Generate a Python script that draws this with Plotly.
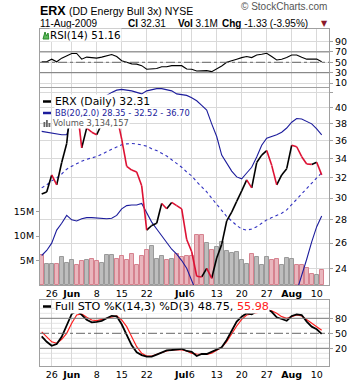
import math
import pandas as pd
import plotly.graph_objects as go

# ---------------- data ----------------
holidays = {"2009-05-25", "2009-07-03"}
dates = [d.strftime("%Y-%m-%d") for d in pd.bdate_range("2009-05-21", "2009-08-11")
         if d.strftime("%Y-%m-%d") not in holidays]

prev_close = 31.2
close = [30.4, 30.6, 32.3, 31.3, 33.6, 35.7, 41.5, 40.6, 35.2, 37.5,
         37.0, 36.7, 38.0, 39.4, 40.3, 39.0, 36.2, 33.2, 32.8, 32.6,
         31.2, 27.1, 27.5, 27.7, 29.5, 29.0, 29.6, 29.3, 29.0, 26.3,
         25.3, 23.4, 23.35, 24.0, 23.25, 24.8, 25.9, 27.9, 28.7, 29.7,
         30.7, 31.8, 31.0, 33.6, 34.4, 34.9, 33.3, 31.3, 32.3, 32.95,
         35.5, 35.33, 34.23, 33.44, 33.4, 33.64, 32.31]
volume_m = [6.1, 4.2, 4.2, 4.2, 5.7, 4.4, 5.1, 4.0, 4.85, 5.05,
            5.3, 4.85, 4.6, 6.1, 6.1, 5.3, 5.9, 5.05, 6.4, 4.0,
            5.9, 7.15, 8.0, 5.4, 5.9, 5.05, 5.3, 6.4, 5.7, 6.0,
            6.0, 10.2, 10.2, 8.5, 7.2, 7.8, 8.7, 7.0, 6.6, 6.75,
            5.1, 4.3, 6.3, 5.7, 4.1, 5.7, 5.1, 5.3, 4.1, 5.5,
            5.25, 4.1, 4.1, 3.4, 2.25, 2.0, 3.134157]
bb_upper = [37.1, 37.0, 36.9, 36.8, 36.7, 36.7, 38.6, 39.8, 40.0, 40.3,
            40.6, 40.9, 41.2, 41.6, 42.0, 42.3, 42.4, 42.3, 42.2, 42.0,
            41.8, 42.2, 42.4, 42.5, 42.5, 42.4, 42.2, 41.8, 41.7, 41.6,
            41.3, 40.9, 40.3, 39.7, 38.0, 36.5, 34.4, 33.6, 32.7, 32.1,
            31.9, 32.5, 33.1, 34.2, 35.5, 36.3, 36.5, 36.7, 37.0, 37.5,
            38.2, 38.65, 38.6, 38.3, 38.0, 37.4, 36.7]
bb_mid = [31.0, 31.3, 31.7, 32.0, 32.4, 32.9, 33.2, 33.5, 33.75, 33.95,
          34.1, 34.25, 34.5, 34.8, 35.05, 35.3, 35.55, 35.65, 35.7, 35.65,
          35.55, 35.4, 35.1, 34.9, 34.6, 34.3, 33.9, 33.5, 33.1, 32.6,
          32.2, 31.6, 31.1, 30.6, 30.0, 29.4, 28.8, 28.3, 27.9, 27.5,
          27.2, 27.1, 27.2, 27.4, 27.7, 28.0, 28.2, 28.4, 28.6, 28.9,
          29.4, 29.9, 30.4, 31.0, 31.5, 32.0, 32.52]
bb_lower = [25.0, 25.4, 26.0, 27.1, 27.7, 28.4, 28.0, 27.9, 28.1, 28.2,
            28.2, 28.15, 28.1, 28.1, 28.15, 28.4, 29.0, 29.3, 29.35, 29.35,
            29.5, 28.6, 27.8, 27.2, 26.6, 26.0, 25.5, 25.1, 24.6, 24.0,
            23.0, 22.2, 21.6, 21.2, 21.0, 20.9, 21.0, 21.3, 21.6, 21.9,
            22.2, 22.3, 22.2, 21.6, 21.0, 20.6, 20.5, 20.5, 20.6, 20.8,
            21.3, 22.3, 23.4, 24.7, 26.1, 27.4, 28.35]
rsi = [51, 51, 56, 51, 58, 63, 67, 67, 56, 60,
       59.5, 58, 60, 62, 65, 61, 53, 50, 47, 46.5,
       43.5, 36.5, 37.5, 38, 41.5, 41.5, 43.5, 43.5, 43.5, 37,
       36.5, 33.3, 33.3, 34, 32, 37, 43, 50, 52.5, 56,
       59, 61, 59, 64, 65.5, 67.3, 61, 54.5, 56, 59,
       64, 64, 59.6, 56, 56, 56.3, 51.16]
sto_k = [44, 33, 25, 28.6, 43, 66.6, 88.6, 95, 87, 77,
         72, 73, 75, 80, 85, 84, 68, 47, 26, 12,
         6.5, 3.5, 3.3, 7.5, 12.5, 16, 16.6, 17.5, 19, 14.6,
         13, 4.6, 8.6, 8.6, 13.3, 18, 22, 36.6, 56.6, 73.3,
         83.3, 90, 88, 94, 97, 98, 93, 82, 78.6, 75,
         84.6, 88, 86.6, 73.3, 63.3, 58, 48.75]
sto_d = [53, 43, 33, 30, 38, 50, 70, 86.6, 88.6, 82,
         76.6, 75.3, 78, 80.6, 83.3, 84.6, 76.6, 63.3, 43.3, 23.3,
         10, 4.6, 4.6, 8, 12, 14.6, 16.6, 16.6, 16.6, 14.6,
         10, 8.6, 8, 8, 10, 15.3, 22, 33.3, 50, 64.6,
         78, 86.6, 89, 91, 93, 96, 95, 90, 83.3, 80,
         83.3, 86.6, 84.6, 78, 70, 63.3, 55.98]

tick_dates = ["2009-05-26", "2009-06-01", "2009-06-08", "2009-06-15", "2009-06-22",
              "2009-07-01", "2009-07-06", "2009-07-13", "2009-07-20", "2009-07-27",
              "2009-08-03", "2009-08-10"]
tick_text = ["26", "<b>Jun</b>", "8", "15", "22", "<b>Jul</b>", "6", "13", "20", "27",
             "<b>Aug</b>", "10"]
price_ticks = [24, 26, 28, 30, 32, 34, 36, 38, 40]
price_grid = [24, 26, 28, 30, 32, 34, 36, 38, 40, 42]

# ---------------- geometry helpers ----------------
W, H = 360, 384
def fx(p):
    return p / W
def fy(p):
    return 1 - p / H

X_L, X_R = 40, 329
XR = [-0.34, 57.46]
FONT = "DejaVu Sans"
ARIAL = "Liberation Sans"
GRID = "#d9d9d9"
BORDER = "#a0a0a0"
RED = "#dd1133"
NAVY = "#1c1c9c"

fig = go.Figure()

# ---- volume bars (base layer of price panel) ----
prevs = [prev_close] + close[:-1]
up = [c >= p for c, p in zip(close, prevs)]
fig.add_trace(go.Bar(
    x=dates, y=[v * 1e6 for v in volume_m], xaxis="x2", yaxis="y2", width=0.8,
    marker=dict(color=["#bdbdbd" if u else "#e9b6bd" for u in up],
                line=dict(color=["#9a9a9a" if u else "#d6828f" for u in up], width=1)),
    hoverinfo="skip"))

# ---- Bollinger bands ----
fig.add_trace(go.Scatter(x=dates, y=bb_upper, xaxis="x2", yaxis="y3", mode="lines",
                         line=dict(color=NAVY, width=1.1), hoverinfo="skip"))
fig.add_trace(go.Scatter(x=dates, y=bb_lower, xaxis="x2", yaxis="y3", mode="lines",
                         line=dict(color=NAVY, width=1.1), hoverinfo="skip"))
fig.add_trace(go.Scatter(x=dates, y=bb_mid, xaxis="x2", yaxis="y3", mode="lines",
                         line=dict(color="#3030c0", width=1.1, dash="dot"), hoverinfo="skip"))

# ---- price line, black up / red down ----
sx = {True: [], False: []}
sy = {True: [], False: []}
for i in range(1, len(close)):
    k = close[i] >= close[i - 1]
    sx[k] += [dates[i - 1], dates[i], None]
    sy[k] += [close[i - 1], close[i], None]
fig.add_trace(go.Scatter(x=sx[True], y=sy[True], xaxis="x2", yaxis="y3", mode="lines",
                         line=dict(color="black", width=1.6), hoverinfo="skip"))
fig.add_trace(go.Scatter(x=sx[False], y=sy[False], xaxis="x2", yaxis="y3", mode="lines",
                         line=dict(color=RED, width=1.6), hoverinfo="skip"))

# ---- RSI ----
fig.add_trace(go.Scatter(x=dates, y=rsi, xaxis="x", yaxis="y", mode="lines",
                         line=dict(color="black", width=1.1), hoverinfo="skip"))

# ---- Full STO ----
fig.add_trace(go.Scatter(x=dates, y=sto_d, xaxis="x3", yaxis="y4", mode="lines",
                         line=dict(color="#ff2020", width=1.2), hoverinfo="skip"))
fig.add_trace(go.Scatter(x=dates, y=sto_k, xaxis="x3", yaxis="y4", mode="lines",
                         line=dict(color="black", width=1.8), hoverinfo="skip"))

tickfont = dict(family=FONT, size=9.5, color="black")
xbase = dict(type="category", range=XR, domain=[fx(X_L), fx(X_R)],
             tickmode="array", tickvals=tick_dates, ticktext=tick_text, tickangle=0,
             showgrid=True, gridcolor=GRID, gridwidth=1,
             showline=True, mirror=True, linecolor=BORDER, linewidth=1,
             zeroline=False, ticks="", tickfont=tickfont, fixedrange=True)

shapes = []
# RSI reference lines
for v, dash, col in [(70, "solid", "#777"), (30, "solid", "#777"), (50, "dashdot", "#666")]:
    shapes.append(dict(type="line", xref="paper", yref="y", x0=fx(X_L), x1=fx(X_R),
                       y0=v, y1=v, line=dict(color=col, width=1, dash=dash)))
# STO light grid + reference lines
for v in [0, 10, 30, 40, 60, 70, 90, 100]:
    shapes.append(dict(type="line", xref="paper", yref="y4", x0=fx(X_L), x1=fx(X_R),
                       y0=v, y1=v, layer="below", line=dict(color="#e4e4e4", width=1)))
for v, dash, col in [(80, "solid", "#777"), (20, "solid", "#777"), (50, "dashdot", "#666")]:
    shapes.append(dict(type="line", xref="paper", yref="y4", x0=fx(X_L), x1=fx(X_R),
                       y0=v, y1=v, line=dict(color=col, width=1, dash=dash)))

annotations = []
def txt(x, y, s, size=10, family=FONT, color="black", bg=None, anchor="left"):
    d = dict(xref="paper", yref="paper", x=fx(x), y=fy(y), text=s, showarrow=False,
             xanchor=anchor, yanchor="middle", font=dict(family=family, size=size, color=color),
             borderpad=0)
    if bg:
        d["bgcolor"] = bg
    annotations.append(d)

# header
txt(39, 11, "<b>ERX</b>", size=12.5, family=ARIAL)
txt(68, 11.5, "(DD Energy Bull 3x) NYSE", size=10.5, family=ARIAL)
txt(328, 7, "© StockCharts.com", size=10, family=ARIAL, color="#555", anchor="right")
txt(39, 23, "11-Aug-2009", size=10, family=ARIAL)
txt(127, 23, "<b>Cl</b> 32.31", size=10, family=ARIAL)
txt(177, 23, "<b>Vol</b> 3.1M", size=10, family=ARIAL)
txt(221, 23, "<b>Chg</b> -1.33 (-3.95%)", size=10, family=ARIAL)
txt(320, 23, "▼", size=8, family=FONT, color="#8b1a2a")

# RSI label
txt(49, 35, "RSI(14) 51.16", size=10.3, bg="white")
# price legend
txt(54, 101.5, "ERX (Daily) 32.31", size=10.8, bg="white")
txt(54, 113, "BB(20,2.0) 28.35 - 32.52 - 36.70", size=8.3, color=NAVY, bg="white")
txt(52, 123, "Volume 3,134,157", size=8.3, color="#555", bg="white")
# STO legend
txt(54, 306.5, "Full STO %K(14,3) %D(3) 48.75, <span style='color:#ff2020'>55.98</span>",
    size=11.2, bg="white")

# legend icons
shapes.append(dict(type="line", xref="paper", yref="paper", x0=fx(43), x1=fx(51),
                   y0=fy(101.5), y1=fy(101.5), line=dict(color="black", width=2.5)))
shapes.append(dict(type="line", xref="paper", yref="paper", x0=fx(43), x1=fx(51),
                   y0=fy(113), y1=fy(113), line=dict(color=NAVY, width=2.5)))
shapes.append(dict(type="line", xref="paper", yref="paper", x0=fx(43), x1=fx(51),
                   y0=fy(306.5), y1=fy(306.5), line=dict(color="black", width=2.5)))
for bx, bh in [(43.5, 5), (46, 7), (48.5, 4)]:
    shapes.append(dict(type="rect", xref="paper", yref="paper", x0=fx(bx), x1=fx(bx + 1.8),
                       y0=fy(127), y1=fy(127 - bh), line=dict(width=0), fillcolor="#666"))
# RSI icon
shapes.append(dict(type="path", xref="paper", yref="paper",
                   path=f"M {fx(43)} {fy(39)} L {fx(45)} {fy(32)} L {fx(46.5)} {fy(36)} "
                        f"L {fx(48)} {fy(33)} L {fx(49)} {fy(39)} Z",
                   line=dict(color="#2a8a2a", width=1), fillcolor="#5cb85c"))

layout = dict(
    width=W, height=H, margin=dict(l=0, r=0, t=0, b=0), autosize=False,
    paper_bgcolor="white", plot_bgcolor="white", showlegend=False, bargap=0,
    xaxis=dict(xbase, anchor="y", showticklabels=False),
    xaxis2=dict(xbase, anchor="y2", showticklabels=True),
    xaxis3=dict(xbase, anchor="y4", showticklabels=True),
    yaxis=dict(domain=[fy(87), fy(29)], range=[2.5, 114], side="right",
               tickvals=[10, 30, 50, 70, 90], showgrid=True, gridcolor=GRID,
               showline=True, mirror=True, linecolor=BORDER, zeroline=False,
               ticks="outside", ticklen=3, tickcolor=BORDER, tickfont=tickfont, fixedrange=True),
    yaxis2=dict(domain=[fy(285), fy(88)], range=[0, 40.3e6], side="left", anchor="x2",
                tickvals=[5e6, 10e6, 15e6], ticktext=["5M", "10M", "15M"], showgrid=False,
                showline=True, mirror=True, linecolor=BORDER, zeroline=False,
                ticks="outside", ticklen=3, tickcolor=BORDER, tickfont=tickfont, fixedrange=True),
    yaxis3=dict(overlaying="y2", anchor="x2", side="right", type="log",
                range=[math.log10(22.76), math.log10(42.59)],
                tickvals=price_grid, ticktext=[str(t) if t in price_ticks else "" for t in price_grid],
                showgrid=True, gridcolor=GRID, zeroline=False, showline=False,
                ticks="outside", ticklen=3, tickcolor=BORDER, tickfont=tickfont, fixedrange=True),
    yaxis4=dict(domain=[fy(366), fy(300)], range=[-15.4, 116.6], side="right", anchor="x3",
                tickvals=[20, 50, 80], showgrid=False,
                showline=True, mirror=True, linecolor=BORDER, zeroline=False,
                ticks="outside", ticklen=3, tickcolor=BORDER, tickfont=tickfont, fixedrange=True),
    shapes=shapes, annotations=annotations,
)
fig.update_layout(layout)
fig.write_html("out.html", config={"displayModeBar": False})
